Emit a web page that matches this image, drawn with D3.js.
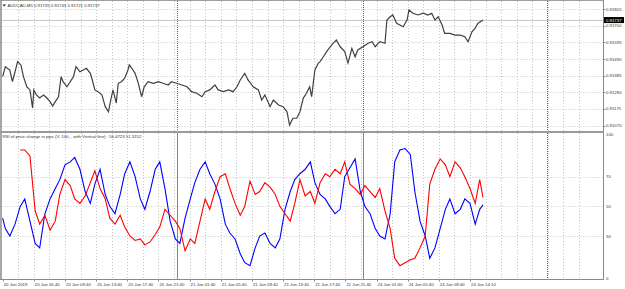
<!DOCTYPE html>
<html>
<head>
<meta charset="utf-8">
<script src="https://cdn.jsdelivr.net/npm/d3@7"></script>
<style>
  body { margin: 0; background: #fff; }
  svg { display: block; font-family: "Liberation Sans", Arial, sans-serif; }
</style>
</head>
<body>
<script>
// price series (bar index, close)
var priceBars = [0,4,11,15,19,23,28,32,37,42,46,48,52,57,63,68,73,77,81,86,90,93,99,104,109,113,119,124,129,135,138,142,147,153,158,163,167,170,175,178,183,188,193,195,199,204,209,214,218,224,232,240,247,255,260,268,276,284,291,299,307,312,319,327,332,340,348,355,361,366,373,378,386,394,399,404,412,417,425,432,438,442,447,453,458,463,468,473,476,481,486,489,494,501,509,514,520,527,532,538,543,547,555,563,569,574,581,589,592,597,601,607,612,617,623,626,632,640,648,655,661,666,671,677,681,689,697,705,712,717,723,728,732,740];
var priceVals = [0.91379,0.91442,0.91421,0.91347,0.91410,0.91474,0.91453,0.91379,0.91315,0.91295,0.91181,0.91295,0.91263,0.91244,0.91263,0.91244,0.91221,0.91193,0.91221,0.91252,0.91379,0.91347,0.91315,0.91347,0.91379,0.91442,0.91410,0.91421,0.91432,0.91400,0.91358,0.91295,0.91284,0.91263,0.91189,0.91157,0.91242,0.91295,0.91212,0.91337,0.91347,0.91369,0.91421,0.91453,0.91432,0.91400,0.91337,0.91252,0.91315,0.91347,0.91337,0.91347,0.91337,0.91326,0.91347,0.91337,0.91326,0.91315,0.91284,0.91274,0.91252,0.91284,0.91295,0.91326,0.91295,0.91284,0.91295,0.91284,0.91315,0.91358,0.91400,0.91358,0.91315,0.91295,0.91231,0.91263,0.91189,0.91231,0.91200,0.91189,0.91157,0.91073,0.91116,0.91116,0.91157,0.91242,0.91274,0.91315,0.91252,0.91421,0.91463,0.91474,0.91505,0.91548,0.91590,0.91611,0.91568,0.91537,0.91465,0.91558,0.91505,0.91548,0.91568,0.91590,0.91600,0.91568,0.91600,0.91590,0.91737,0.91758,0.91769,0.91716,0.91706,0.91695,0.91737,0.91801,0.91780,0.91769,0.91780,0.91769,0.91780,0.91737,0.91758,0.91706,0.91653,0.91653,0.91642,0.91642,0.91632,0.91600,0.91663,0.91685,0.91716,0.91737];

// RSI sub-window (bar index, red, blue)
var rsiBars = [0,4,11,19,27,34,42,50,57,65,73,81,88,96,104,111,119,127,135,142,150,158,165,173,181,188,196,204,212,219,227,235,242,250,258,266,273,281,289,296,304,312,319,327,335,343,350,358,366,373,381,389,396,404,412,420,427,435,443,450,458,466,474,481,489,497,504,512,520,527,535,543,551,558,566,574,581,589,597,604,612,620,628,635,643,651,658,666,674,682,689,697,705,712,720,728,735,740];
var rsiRed = [null,null,null,null,88,88,84,47,38,44,34,40,58,68,64,55,52,57,66,74,62,55,42,38,44,36,30,27,28,24,26,31,36,48,44,40,35,20,28,25,40,55,48,60,70,72,62,52,44,50,67,58,60,66,63,58,50,45,40,52,68,57,60,52,66,72,70,75,72,80,65,62,58,64,60,56,62,47,35,15,10,12,14,15,22,30,65,75,82,78,70,80,76,70,62,52,68,56];
var rsiBlue = [42,35,30,38,50,55,40,25,22,45,55,62,68,78,80,83,75,60,52,65,75,58,50,45,58,72,80,70,55,48,60,75,80,62,40,28,25,42,55,66,75,80,72,65,55,38,32,28,18,12,10,22,30,32,25,22,28,48,60,68,72,75,80,66,58,55,50,45,48,70,76,82,60,50,45,35,30,28,45,80,88,89,85,60,40,30,15,22,35,48,55,45,48,55,52,38,48,51];

// axes
var timeTicks = [0,48,96,144,192,240,288,336,384,432,480,528,576,624,672,720];
var timeLabels = ['20 Jun 2019','20 Jun 05:40','20 Jun 09:40','20 Jun 13:40','20 Jun 17:40','20 Jun 21:40','21 Jun 01:40','21 Jun 05:40','21 Jun 09:40','21 Jun 13:40','21 Jun 17:40','21 Jun 21:40','24 Jun 01:40','24 Jun 05:40','24 Jun 09:40','24 Jun 14:10'];
var priceTicks = [0.91805,0.91700,0.91595,0.91490,0.91385,0.91280,0.91175,0.91070];
var rsiTicks = [100,70,50,30,0];
var rsiLevels = [70,50,30];
var redLines = [268,555];
var futureLine = 839;
var lastPrice = 0.91737;

var W = 625, H = 289;
var svg = d3.select('body').append('svg').attr('width', W).attr('height', H);
svg.append('rect').attr('width', W).attr('height', H).attr('fill', '#fff');

var left = 1.5, right = 603.5;
var mainTop = 1, mainBot = 131, subTop = 133, subBot = 279.5;

var x = d3.scaleLinear().domain([0, 720]).range([2.7, 470]);
var yP = d3.scaleLinear().domain([0.91070, 0.91805]).range([125.5, 9.3]);
var yR = d3.scaleLinear().domain([0, 100]).range([280.5, 132.2]);

var fs = '4.3px';
var txt = '#333';
var grid = '#c4c4c4';

// vertical grid, every 2 hours
var vgrid = d3.range(24, 900, 24).filter(function (b) { return x(b) < right - 1; });
[[mainTop, mainBot], [subTop, subBot]].forEach(function (p) {
    svg.selectAll(null).data(vgrid).enter().append('line')
        .attr('x1', function (d) { return Math.round(x(d)) + 0.5; })
        .attr('x2', function (d) { return Math.round(x(d)) + 0.5; })
        .attr('y1', p[0]).attr('y2', p[1])
        .attr('stroke', grid).attr('stroke-width', 1).attr('stroke-dasharray', '1,2');
});

// horizontal grid main
svg.selectAll(null).data(priceTicks).enter().append('line')
    .attr('x1', left).attr('x2', right)
    .attr('y1', function (d) { return Math.round(yP(d)) + 0.5; })
    .attr('y2', function (d) { return Math.round(yP(d)) + 0.5; })
    .attr('stroke', grid).attr('stroke-dasharray', '1,2');

// horizontal levels sub
svg.selectAll(null).data(rsiLevels).enter().append('line')
    .attr('x1', left).attr('x2', right)
    .attr('y1', function (d) { return Math.round(yR(d)) + 0.5; })
    .attr('y2', function (d) { return Math.round(yR(d)) + 0.5; })
    .attr('stroke', grid).attr('stroke-dasharray', '1,2');

// bid line
svg.append('line')
    .attr('x1', left).attr('x2', right)
    .attr('y1', Math.round(yP(lastPrice)) + 0.5).attr('y2', Math.round(yP(lastPrice)) + 0.5)
    .attr('stroke', '#c8c8c8');

// vertical line objects
redLines.forEach(function (b) {
    var xx = Math.round(x(b)) + 0.5;
    svg.append('line').attr('x1', xx).attr('x2', xx).attr('y1', mainTop).attr('y2', mainBot)
        .attr('stroke', '#606060').attr('stroke-dasharray', '1,1');
    svg.append('line').attr('x1', xx).attr('x2', xx).attr('y1', subTop).attr('y2', subBot)
        .attr('stroke', '#f25a5a');
});
var fx = Math.round(x(futureLine)) + 0.5;
[[mainTop, mainBot], [subTop, subBot]].forEach(function (p) {
    svg.append('line').attr('x1', fx).attr('x2', fx).attr('y1', p[0]).attr('y2', p[1])
        .attr('stroke', '#606060').attr('stroke-dasharray', '1,1');
});

// price
var priceData = priceBars.map(function (b, i) { return [b, priceVals[i]]; });
svg.append('path').datum(priceData)
    .attr('d', d3.line().x(function (d) { return x(d[0]); }).y(function (d) { return yP(d[1]); }))
    .attr('fill', 'none').attr('stroke', '#404040').attr('stroke-width', 1.2);

// rsi lines
function rsiPath(vals, color) {
    var data = rsiBars.map(function (b, i) { return [b, vals[i]]; });
    svg.append('path').datum(data)
        .attr('d', d3.line().defined(function (d) { return d[1] != null; })
            .x(function (d) { return x(d[0]); }).y(function (d) { return yR(d[1]); }))
        .attr('fill', 'none').attr('stroke', color).attr('stroke-width', 1.1);
}
rsiPath(rsiBlue, '#0000ff');
rsiPath(rsiRed, '#ff0000');

// frame
var frame = '#8a8a8a';
svg.append('line').attr('x1', 0.5).attr('x2', right).attr('y1', 0.5).attr('y2', 0.5).attr('stroke', '#a0a0a0');
svg.append('line').attr('x1', 1).attr('x2', 1).attr('y1', 0).attr('y2', subBot).attr('stroke', frame).attr('stroke-width', 1.5);
svg.append('line').attr('x1', right).attr('x2', right).attr('y1', 0).attr('y2', subBot + 0.5).attr('stroke', frame);
svg.append('rect').attr('x', 0).attr('y', mainBot).attr('width', right).attr('height', 2).attr('fill', '#9a9a9a');
svg.append('line').attr('x1', 0).attr('x2', right).attr('y1', subBot).attr('y2', subBot).attr('stroke', frame);

// right axis labels
svg.selectAll(null).data(priceTicks).enter().append('text')
    .attr('x', 606).attr('y', function (d) { return yP(d) + 1.5; })
    .attr('font-size', fs).attr('fill', txt)
    .text(function (d) { return d.toFixed(5); });
svg.selectAll(null).data(priceTicks).enter().append('line')
    .attr('x1', right).attr('x2', right + 2)
    .attr('y1', function (d) { return Math.round(yP(d)) + 0.5; })
    .attr('y2', function (d) { return Math.round(yP(d)) + 0.5; })
    .attr('stroke', frame);

svg.append('rect').attr('x', 604).attr('y', yP(lastPrice) - 3).attr('width', 20).attr('height', 6).attr('fill', '#000');
svg.append('text').attr('x', 606).attr('y', yP(lastPrice) + 1.5)
    .attr('font-size', fs).attr('fill', '#fff').text(lastPrice.toFixed(5));

svg.selectAll(null).data(rsiTicks).enter().append('text')
    .attr('x', 606).attr('y', function (d) { return d === 100 ? yR(d) + 4 : (d === 0 ? yR(d) - 1 : yR(d) + 1.5); })
    .attr('font-size', fs).attr('fill', txt)
    .text(function (d) { return d; });

// time axis
svg.selectAll(null).data(timeTicks).enter().append('line')
    .attr('x1', function (d) { return Math.round(x(d)) + 0.5; })
    .attr('x2', function (d) { return Math.round(x(d)) + 0.5; })
    .attr('y1', subBot).attr('y2', subBot + 2)
    .attr('stroke', frame);
svg.selectAll(null).data(timeTicks).enter().append('text')
    .attr('x', function (d) { return x(d) + 1; }).attr('y', 285.5)
    .attr('font-size', fs).attr('fill', txt)
    .text(function (d, i) { return timeLabels[i]; });

// window titles
svg.append('path').attr('d', 'M2.5,4.5 L6,4.5 L4.25,6.5 Z').attr('fill', '#222');
svg.append('text').attr('x', 7.5).attr('y', 7).attr('font-size', fs).attr('fill', txt)
    .text('AUDCAD,M5  0.91735 0.91743 0.91721 0.91737');
svg.append('text').attr('x', 2.5).attr('y', 138).attr('font-size', fs).attr('fill', txt)
    .text('RSI of price change in pips (V, 100, , with Vertical line) : 56.4723 51.3152');
</script>
</body>
</html>
